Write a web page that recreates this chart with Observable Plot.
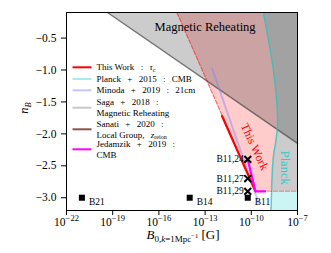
<!DOCTYPE html>
<html><head><meta charset="utf-8">
<script src="https://cdn.jsdelivr.net/npm/d3@7"></script>
<script src="https://cdn.jsdelivr.net/npm/@observablehq/plot@0.6"></script>
<style>body{margin:0;background:#fff}#chart{width:331px;height:253px}</style>
</head><body><div id="chart"></div>
<script>
// ---- data (log10 of B in Gauss, n_B) ----
const xTickExps = [-22, -19, -16, -13, -10, -7];
const yTicks = [-3, -2.5, -2, -1.5, -1, -0.5];
const sagaLogB = [-19.34, -7];
const sagaN = [-0.1, -2.15];
const planckLogB = [-9.21, -8.88, -8.56, -8.33, -8.30, -8.40, -8.56, -8.66, -8.70, -8.72];
const planckN = [-0.1, -0.54, -1.01, -1.56, -1.87, -2.11, -2.34, -2.73, -3.04, -3.2];
const thisWorkLogB = [-14.83, -9.73];
const thisWorkN = [-0.1, -2.9];
const thisWorkSolidLogB = [-11.9, -9.73];
const thisWorkSolidN = [-1.72, -2.9];
const floorLogB = [-9.73, -7];
const floorN = [-2.9, -2.9];
const minodaLogB = [-12.54, -9.53];
const minodaN = [-0.98, -3.075];
const jedamzikLogB = [-10.23, -9.73, -9.1];
const jedamzikN = [-2.4, -2.9, -2.9];
const squareNames = ["B21", "B14", "B11"];
const squareLogB = [-21, -14, -10.23];
const squareN = [-3, -3, -3];
const crossNames = ["B11,24", "B11,27", "B11,29"];
const crossLogB = [-10.23, -10.23, -10.23];
const crossN = [-2.4, -2.7, -2.9];
const regionLabels = ["Magnetic Reheating", "This Work", "Planck"];
const regionLabelLogB = [-13.0, -9.79, -7.84];
const regionLabelN = [-0.33, -2.2, -2.53];
const S = "\u2002\u2009";
const legendLabels = [["This Work" + S + ":" + S + "τ|c"], ["Planck" + S + "+" + S + "2015" + S + ":" + S + "CMB"],
  ["Minoda" + S + "+" + S + "2019" + S + ":" + S + "21cm"],
  ["Saga" + S + "+" + S + "2018" + S + ":", "Magnetic Reheating"],
  ["Sanati" + S + "+" + S + "2020" + S + ":", "Local Group," + S + "z|reion"],
  ["Jedamzik" + S + "+" + S + "2019" + S + ":", "CMB"]];
const legendColors = ["#ff0000", "#a8ecec", "#c4c4ff", "#c8c8c8", "#8c564b", "#ff00ff"];

const xDom = [1e-22, 1e-7], yDom = [-3.2, -0.1];
const P = (lb, n) => lb.map((v, i) => ({x: 10 ** v, y: n[i]}));
const serif = "Liberation Serif";

const planckPts = P(planckLogB, planckN);
const twPts = P(thisWorkLogB, thisWorkN);
const sagaPts = P(sagaLogB, sagaN);

const chart = Plot.plot({
  width: 331, height: 253,
  marginLeft: 66, marginRight: 34, marginTop: 12, marginBottom: 43,
  style: {fontFamily: serif, fontSize: "11.5px", background: "#fff", color: "#000"},
  x: {type: "log", domain: xDom, ticks: xTickExps.map(e => 10 ** e), tickFormat: d => String(Math.round(Math.log10(d))),
      tickSize: 5, tickPadding: 2, label: null},
  y: {domain: yDom, ticks: yTicks, tickFormat: d => (d < 0 ? "−" : "") + Math.abs(d).toFixed(1),
      tickSize: 5, tickPadding: 5, label: null},
  marks: [
    Plot.areaX(twPts.slice().reverse(), {y: "y", x1: "x", x2: () => xDom[1], fill: "#ff0000", fillOpacity: 0.2}),
    Plot.areaX(planckPts, {y: "y", x1: "x", x2: () => xDom[1], fill: "#00c8c8", fillOpacity: 0.2, curve: "catmull-rom"}),
    Plot.areaY(sagaPts, {x: "x", y1: "y", y2: () => yDom[1], fill: "#000", fillOpacity: 0.2}),
    Plot.line(sagaPts, {x: "x", y: "y", stroke: "#444", strokeWidth: 1.5, strokeOpacity: 0.7}),
    Plot.line(planckPts, {x: "x", y: "y", stroke: "#30c0c0", strokeWidth: 1.5, strokeOpacity: 0.75, curve: "catmull-rom"}),
    Plot.line(twPts, {x: "x", y: "y", stroke: "#ff0000", strokeWidth: 1.2, strokeOpacity: 0.5, strokeDasharray: "4,2"}),
    Plot.line(P(floorLogB, floorN), {x: "x", y: "y", stroke: "#ff0000", strokeWidth: 1.5, strokeOpacity: 0.35, strokeDasharray: "4,2"}),
    Plot.line(P(minodaLogB, minodaN), {x: "x", y: "y", stroke: "#8080ff", strokeWidth: 2, strokeOpacity: 0.45}),
    Plot.line(P(thisWorkSolidLogB, thisWorkSolidN), {x: "x", y: "y", stroke: "#ff0000", strokeWidth: 2.2}),
    Plot.line(P(jedamzikLogB, jedamzikN), {x: "x", y: "y", stroke: "#ff00ff", strokeWidth: 2.2}),
    Plot.dot(P(squareLogB, squareN), {x: "x", y: "y", symbol: "square", fill: "#000", r: 3.4}),
    Plot.dot(P(crossLogB, crossN), {x: "x", y: "y", symbol: "times", stroke: "#000", strokeWidth: 2, r: 3.2}),
    Plot.text(P(squareLogB, squareN), {x: "x", y: "y", text: (d, i) => squareNames[i], dx: 7, dy: 4, textAnchor: "start", fontSize: 9.5}),
    Plot.text(P(crossLogB, crossN), {x: "x", y: "y", text: (d, i) => crossNames[i], dx: -4, textAnchor: "end", fontSize: 9.5}),
    Plot.text(P(regionLabelLogB, regionLabelN).slice(0, 1), {x: "x", y: "y", text: () => regionLabels[0], fontSize: 12.5, fill: "#000"}),
    Plot.text(P(regionLabelLogB, regionLabelN).slice(1, 2), {x: "x", y: "y", text: () => regionLabels[1], fontSize: 12, fill: "#ff0000", rotate: 65}),
    Plot.text(P(regionLabelLogB, regionLabelN).slice(2, 3), {x: "x", y: "y", text: () => regionLabels[2], fontSize: 12.5, fill: "#30c8c8", rotate: 90}),
    Plot.frame({stroke: "#000", strokeWidth: 1})
  ]
});
document.getElementById("chart").appendChild(chart);
const svg = d3.select(chart);

// superscript x tick labels: 10^n
svg.selectAll('g[aria-label="x-axis tick label"] text').each(function() {
  const e = this.textContent;
  const t = d3.select(this);
  t.text("");
  t.append("tspan").text("10");
  t.append("tspan").attr("dy", "-0.5em").attr("font-size", "8.5px").text(e.replace("-", "−"));
});

// axis labels
const xl = svg.append("text").attr("x", 183).attr("y", 239).attr("text-anchor", "middle")
  .attr("font-family", serif).attr("font-size", "13px");
xl.append("tspan").attr("font-style", "italic").text("B");
xl.append("tspan").attr("dy", "3").attr("font-size", "9px").text("0,");
xl.append("tspan").attr("font-size", "9px").attr("font-style", "italic").text("k");
xl.append("tspan").attr("font-size", "9px").text("=1Mpc");
xl.append("tspan").attr("dy", "-4").attr("font-size", "6.5px").text("−1");
xl.append("tspan").attr("dy", "1").text(" [G]");

const yl = svg.append("text").attr("transform", "translate(28,108) rotate(-90)").attr("text-anchor", "middle")
  .attr("font-family", serif).attr("font-size", "12.5px");
yl.append("tspan").attr("font-style", "italic").text("n");
yl.append("tspan").attr("dy", "3").attr("font-size", "8.5px").attr("font-style", "italic").text("B");

// legend
const lg = svg.append("g").attr("font-family", serif).attr("font-size", "9px").attr("text-anchor", "start");
const rowY = [67.3, 79, 90.3, 107.7, 129.3, 149.3];
legendLabels.forEach((lines, i) => {
  lg.append("line").attr("x1", 72.5).attr("x2", 91.5).attr("y1", rowY[i]).attr("y2", rowY[i])
    .attr("stroke", legendColors[i]).attr("stroke-width", 2);
  const n = lines.length;
  lines.forEach((s, j) => {
    const y = rowY[i] + (n === 1 ? 0 : (j === 0 ? -5.3 : 5.3)) + 3;
    const t = lg.append("text").attr("x", 96.5).attr("y", y).attr("text-anchor", "start");
    const parts = s.split("|");
    if (parts.length === 1) { t.text(s); return; }
    const main = parts[0];
    const last = main.length - 1;
    t.append("tspan").text(main.slice(0, last));
    t.append("tspan").attr("font-style", "italic").text(main.slice(last));
    t.append("tspan").attr("dy", 1.5).attr("font-size", "6px").text(parts[1]);
  });
});
</script></body></html>
